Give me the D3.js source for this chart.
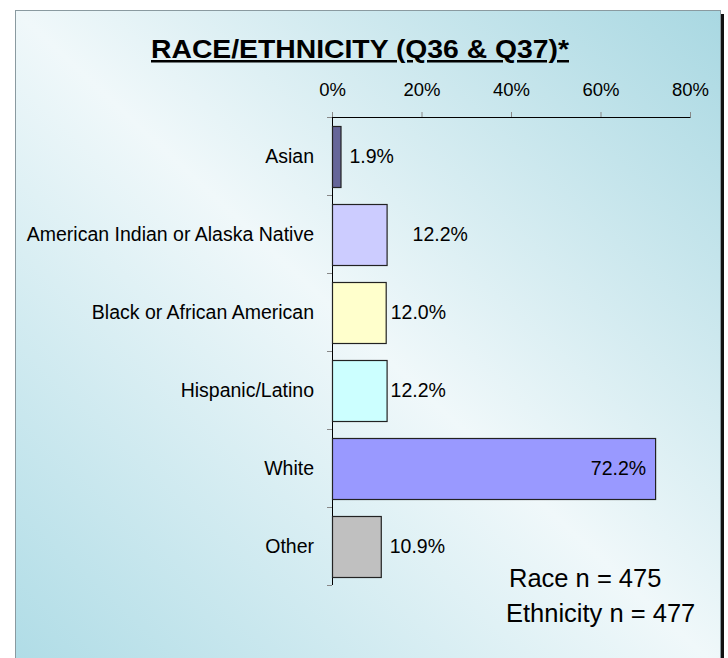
<!DOCTYPE html>
<html>
<head>
<meta charset="utf-8">
<script src="https://cdn.jsdelivr.net/npm/d3@7"></script>
<style>
  body { margin: 0; background: #fff; }
  svg { display: block; font-family: "Liberation Sans", Arial, sans-serif; }
</style>
</head>
<body>
<svg width="728" height="658"></svg>
<script>
var categories = ["Asian", "American Indian or Alaska Native", "Black or African American",
    "Hispanic/Latino", "White", "Other"];
var values = [1.9, 12.2, 12.0, 12.2, 72.2, 10.9];
var ticks = [0, 20, 40, 60, 80];
var notes = ["Race n = 475", "Ethnicity n = 477"];

var colors = ["#666699", "#ccccff", "#ffffcc", "#ccffff", "#9999ff", "#c0c0c0"];
// Excel put a couple of labels by hand
var labelNudge = [9, 26, 5, 4, 0, 9];

var svg = d3.select("svg");

var defs = svg.append("defs");
var grad = defs.append("linearGradient")
    .attr("id", "bg")
    .attr("x1", "0").attr("y1", "1")
    .attr("x2", "1").attr("y2", "0");
grad.append("stop").attr("offset", "0").attr("stop-color", "#afdce6");
grad.append("stop").attr("offset", "0.5").attr("stop-color", "#f0f8fa");
grad.append("stop").attr("offset", "1").attr("stop-color", "#a9d8e2");

// shadow on the right, then panel
svg.append("rect")
    .attr("x", 19).attr("y", 14)
    .attr("width", 705).attr("height", 660)
    .style("fill", "#111");
svg.append("rect")
    .attr("x", 15.5).attr("y", 10.5)
    .attr("width", 705).attr("height", 660)
    .style("fill", "url(#bg)")
    .style("stroke", "#8a9aa0");

svg.append("text")
    .attr("x", 151).attr("y", 58)
    .attr("textLength", 418)
    .attr("lengthAdjust", "spacingAndGlyphs")
    .text("RACE/ETHNICITY (Q36 & Q37)*")
    .style("font-size", "25px")
    .style("font-weight", "bold")
    .style("text-decoration", "underline");

var x = d3.scaleLinear().domain([0, 80]).range([332, 690]);
var y = d3.scaleBand().domain(categories).range([117, 585]).paddingInner(0.22).paddingOuter(0.11);

var xAxis = svg.append("g")
    .attr("transform", "translate(0,117)")
    .call(d3.axisTop(x).tickValues(ticks).tickSize(5).tickPadding(16)
        .tickFormat(function(d) { return d + "%"; }));
xAxis.select(".domain").attr("d", "M332.5,0.5H690.5").style("stroke", "#000");
xAxis.selectAll(".tick line").style("stroke", "#888");
xAxis.selectAll("text")
    .attr("dy", "0")
    .style("font-size", "18.5px").style("font-family", "inherit").style("fill", "#000");

// y axis with ticks at the band edges
var edges = d3.range(categories.length + 1).map(function(i) {
    return 117 + i * (585 - 117) / categories.length;
});
svg.append("line")
    .attr("x1", 332.5).attr("x2", 332.5)
    .attr("y1", 117).attr("y2", 585)
    .style("stroke", "#000");
svg.selectAll("line.ytick")
    .data(edges)
    .enter()
    .append("line")
    .attr("class", "ytick")
    .attr("x1", 327).attr("x2", 332)
    .attr("y1", function(d) { return Math.round(d) + 0.5; })
    .attr("y2", function(d) { return Math.round(d) + 0.5; })
    .style("stroke", "#888");

svg.selectAll("text.cat")
    .data(categories)
    .enter()
    .append("text")
    .attr("class", "cat")
    .attr("x", 314)
    .attr("y", function(d) { return y(d) + y.bandwidth() / 2; })
    .attr("dy", "0.38em")
    .text(function(d) { return d; })
    .style("font-size", "19.5px")
    .style("text-anchor", "end");

svg.selectAll("rect.bar")
    .data(values)
    .enter()
    .append("rect")
    .attr("class", "bar")
    .attr("x", x(0) + 0.5)
    .attr("y", function(d, i) { return Math.round(y(categories[i])) + 0.5; })
    .attr("width", function(d) { return x(d) - x(0); })
    .attr("height", Math.round(y.bandwidth()))
    .style("fill", function(d, i) { return colors[i]; })
    .style("stroke", "#222")
    .style("stroke-width", 1.2);

svg.selectAll("text.val")
    .data(values)
    .enter()
    .append("text")
    .attr("class", "val")
    .attr("x", function(d, i) {
        return d > 50 ? x(d) - 9 : x(d) + labelNudge[i];
    })
    .attr("y", function(d, i) { return y(categories[i]) + y.bandwidth() / 2; })
    .attr("dy", "0.38em")
    .text(function(d) { return d.toFixed(1) + "%"; })
    .style("font-size", "19.5px")
    .style("text-anchor", function(d) { return d > 50 ? "end" : "start"; });

svg.selectAll("text.note")
    .data(notes)
    .enter()
    .append("text")
    .attr("class", "note")
    .attr("x", function(d, i) { return i === 0 ? 509 : 506; })
    .attr("y", function(d, i) { return 587 + i * 35; })
    .text(function(d) { return d; })
    .style("font-size", "25.5px");
</script>
</body>
</html>
